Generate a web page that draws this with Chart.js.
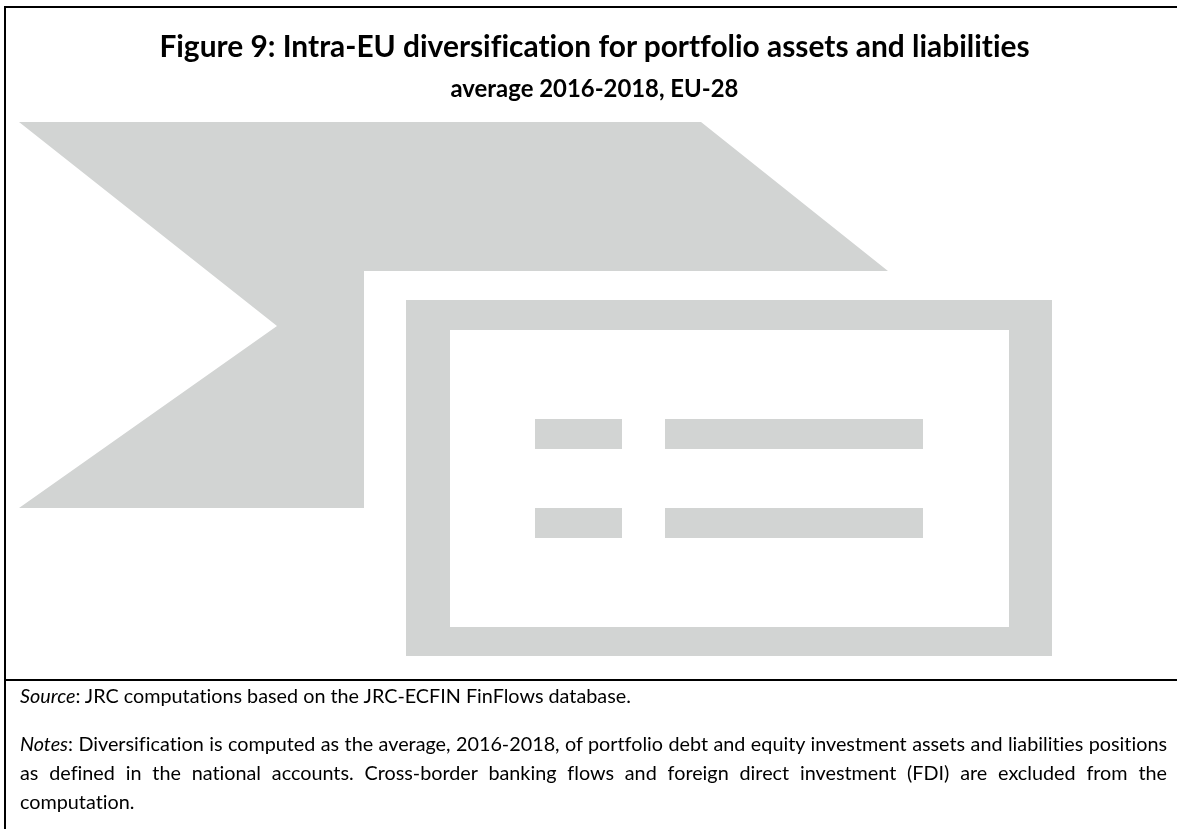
<!DOCTYPE html>
<html>
<head>
<meta charset="utf-8">
<script src="https://cdn.jsdelivr.net/npm/chart.js@4"></script>
<style>
  html, body { margin: 0; padding: 0; background: #fff; overflow: hidden; }
  #page { position: relative; width: 1177px; height: 829px; font-family: Lato, sans-serif; color: #000; font-variant-ligatures: none; }
  #chart { position: absolute; left: 0; top: 0; }
  .rule { position: absolute; background: #000; }
  .txt { position: absolute; white-space: nowrap; }
  .centered { left: 6px; width: 1177px; text-align: center; font-weight: bold; }
  .note { left: 20px; width: 1147px; font-size: 19.8px; line-height: 24px; }
  .just { text-align: justify; text-align-last: justify; white-space: normal; }
</style>
</head>
<body>
<div id="page">
  <canvas id="chart" width="1177" height="829"></canvas>
  <div class="rule" style="left:4px;top:6px;width:1173px;height:2px"></div>
  <div class="rule" style="left:4px;top:6px;width:2px;height:823px"></div>
  <div class="rule" style="left:4px;top:679px;width:1173px;height:2px"></div>
  <div class="txt centered" style="top:26px;font-size:29.9px;line-height:38px" id="title"></div>
  <div class="txt centered" style="top:74px;font-size:23.9px;line-height:28px" id="subtitle"></div>
  <div class="txt note" style="top:683px"><i>Source</i>: JRC computations based on the JRC-ECFIN FinFlows database.</div>
  <div class="txt note just" style="top:731px"><i>Notes</i>: Diversification is computed as the average, 2016-2018, of portfolio debt and equity investment assets and liabilities positions</div>
  <div class="txt note just" style="top:760px">as defined in the national accounts. Cross-border banking flows and foreign direct investment (FDI) are excluded from the</div>
  <div class="txt note" style="top:789px">computation.</div>
</div>
<script>
const titleText = 'Figure 9: Intra-EU diversification for portfolio assets and liabilities';
const subtitleText = 'average 2016-2018, EU-28';

// the figure itself is only a grey "missing image" placeholder, read off in page pixels
const ribbonX = [19, 701, 888, 364, 364, 19, 277];
const ribbonY = [122, 122, 271, 271, 508, 508, 326];
const frameX = [406, 1052, 1052, 406];
const frameY = [300, 300, 656, 656];
const holeX = [450, 1009, 1009, 450];
const holeY = [330, 330, 627, 627];
const dashTopLeftX = [535, 622, 622, 535];
const dashTopLeftY = [419, 419, 449, 449];
const dashTopRightX = [665, 923, 923, 665];
const dashTopRightY = [419, 419, 449, 449];
const dashBottomLeftX = [535, 622, 622, 535];
const dashBottomLeftY = [508, 508, 538, 538];
const dashBottomRightX = [665, 923, 923, 665];
const dashBottomRightY = [508, 508, 538, 538];

const grey = '#d2d4d3';

document.getElementById('title').textContent = titleText;
document.getElementById('subtitle').textContent = subtitleText;

function shape(xs, ys, color) {
  return {
    data: xs.map((x, i) => ({ x: x, y: ys[i] })),
    showLine: true,
    fill: 'shape',
    backgroundColor: color,
    borderWidth: 0,
    pointRadius: 0,
    tension: 0,
  };
}

// first dataset ends up on top
new Chart(document.getElementById('chart'), {
  type: 'scatter',
  data: {
    datasets: [
      shape(dashTopLeftX, dashTopLeftY, grey),
      shape(dashTopRightX, dashTopRightY, grey),
      shape(dashBottomLeftX, dashBottomLeftY, grey),
      shape(dashBottomRightX, dashBottomRightY, grey),
      shape(holeX, holeY, '#ffffff'),
      shape(frameX, frameY, grey),
      shape(ribbonX, ribbonY, grey),
    ]
  },
  options: {
    responsive: false,
    animation: false,
    devicePixelRatio: 1,
    layout: { padding: 0 },
    plugins: { legend: { display: false }, tooltip: { enabled: false } },
    scales: {
      x: { type: 'linear', display: false, min: 0, max: 1177 },
      y: { type: 'linear', display: false, min: 0, max: 829, reverse: true }
    }
  }
});
</script>
</body>
</html>
